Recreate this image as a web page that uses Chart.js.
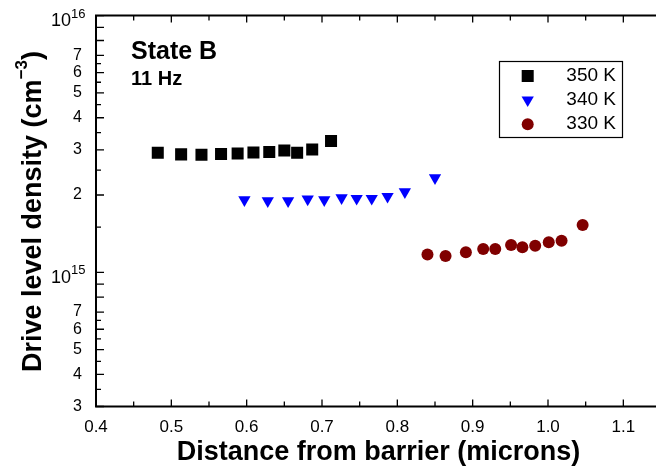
<!DOCTYPE html>
<html>
<head>
<meta charset="utf-8">
<title>Drive level density - State B, 11 Hz</title>
<script src="https://cdn.jsdelivr.net/npm/chart.js@4/dist/chart.umd.min.js"></script>
<style>
  html, body { margin: 0; padding: 0; background: #fff; overflow: hidden; }
  #clip { width: 656px; height: 467px; overflow: hidden; }
  #wrap { width: 676px; height: 467px; }
</style>
</head>
<body>
<div id="clip"><div id="wrap"><canvas id="dldChart"></canvas></div></div>
<script>
// distance from barrier (microns) / drive level density (cm^-3)
const x350 = [0.482, 0.513, 0.540, 0.566, 0.588, 0.609, 0.630, 0.650, 0.667, 0.687, 0.712];
const n350 = [2.92e15, 2.88e15, 2.87e15, 2.89e15, 2.90e15, 2.93e15, 2.94e15, 2.98e15, 2.92e15, 3.01e15, 3.25e15];

const x340 = [0.597, 0.628, 0.655, 0.681, 0.703, 0.726, 0.746, 0.766, 0.787, 0.810, 0.850];
const n340 = [1.915e15, 1.898e15, 1.898e15, 1.927e15, 1.915e15, 1.950e15, 1.939e15, 1.939e15, 1.974e15, 2.057e15, 2.332e15];

const x330 = [0.840, 0.864, 0.891, 0.914, 0.930, 0.951, 0.966, 0.983, 1.001, 1.018, 1.046];
const n330 = [1.172e15, 1.158e15, 1.196e15, 1.233e15, 1.233e15, 1.278e15, 1.251e15, 1.270e15, 1.308e15, 1.328e15, 1.529e15];

const seriesNames = ['350 K', '340 K', '330 K'];

// axis ticks
const xMajorValues = [0.4, 0.5, 0.6, 0.7, 0.8, 0.9, 1.0, 1.1];
const xMinorValues = [0.45, 0.55, 0.65, 0.75, 0.85, 0.95, 1.05, 1.15];

const yMajorValues = [3e14, 4e14, 5e14, 6e14, 7e14, 8e14, 9e14, 1e15, 2e15, 3e15, 4e15, 5e15, 6e15, 7e15, 8e15, 9e15, 1e16];
const yMinorValues = [3.5e14, 4.5e14, 5.5e14, 6.5e14, 1.5e15, 2.5e15, 3.5e15, 4.5e15, 5.5e15, 6.5e15];
const yLabelValues = [3e14, 4e14, 5e14, 6e14, 7e14, 2e15, 3e15, 4e15, 5e15, 6e15, 7e15];
const yLabelTexts = ['3', '4', '5', '6', '7', '2', '3', '4', '5', '6', '7'];
const decadeValues = [1e15, 1e16];
const decadeExps = ['15', '16'];

const FONT = '"Liberation Sans", Arial, Helvetica, sans-serif';

function sameValue(a, b) { return Math.abs(a / b - 1) < 1e-6; }

// frame, inward ticks, decade labels, y title, notes and legend
const frameAndText = {
  id: 'frameAndText',
  afterDraw(chart) {
    const { ctx, chartArea: a, scales: { x, y } } = chart;
    ctx.save();
    ctx.strokeStyle = '#000';
    ctx.fillStyle = '#000';

    ctx.lineWidth = 1.3;
    ctx.beginPath();
    const xTick = (v, len) => {
      const px = x.getPixelForValue(v);
      ctx.moveTo(px, a.bottom); ctx.lineTo(px, a.bottom - len);
      ctx.moveTo(px, a.top); ctx.lineTo(px, a.top + len);
    };
    xMajorValues.forEach(v => xTick(v, 7));
    xMinorValues.forEach(v => xTick(v, 5));
    const yTick = (v, len) => {
      const py = y.getPixelForValue(v);
      ctx.moveTo(a.left, py); ctx.lineTo(a.left + len, py);
    };
    yMajorValues.forEach(v => yTick(v, 8));
    yMinorValues.forEach(v => yTick(v, 5));
    ctx.stroke();

    ctx.lineWidth = 2;
    ctx.lineJoin = 'miter';
    ctx.beginPath();
    ctx.moveTo(a.right, a.top);
    ctx.lineTo(a.left, a.top);
    ctx.lineTo(a.left, a.bottom);
    ctx.lineTo(a.right, a.bottom);
    ctx.stroke();

    // 10^15, 10^16
    ctx.textBaseline = 'alphabetic';
    decadeValues.forEach((v, i) => {
      const py = y.getPixelForValue(v);
      ctx.font = '18px ' + FONT;
      ctx.textAlign = 'right';
      ctx.fillText('10', a.left - 25, py + 10.5);
      ctx.font = '13px ' + FONT;
      ctx.textAlign = 'left';
      ctx.fillText(decadeExps[i], a.left - 25, py + 2);
    });

    // y axis title with superscript
    const main = 'Drive level density (cm';
    const sup = '\u22123';
    const close = ')';
    ctx.font = 'bold 27px ' + FONT;
    const wMain = ctx.measureText(main).width;
    const wClose = ctx.measureText(close).width;
    ctx.font = 'bold 17px ' + FONT;
    const wSup = ctx.measureText(sup).width;
    const total = wMain + wSup + wClose;
    ctx.save();
    ctx.translate(41, 211.5 + total / 2);
    ctx.rotate(-Math.PI / 2);
    ctx.textAlign = 'left';
    ctx.font = 'bold 27px ' + FONT;
    ctx.fillText(main, 0, 0);
    ctx.fillText(close, wMain + wSup, 0);
    ctx.font = 'bold 17px ' + FONT;
    ctx.fillText(sup, wMain, -14);
    ctx.restore();

    // notes
    ctx.textAlign = 'left';
    ctx.font = 'bold 25px ' + FONT;
    ctx.fillText('State B', 131, 58.5);
    ctx.font = 'bold 20px ' + FONT;
    ctx.fillText('11 Hz', 131, 85);

    // legend
    ctx.lineWidth = 1.2;
    ctx.strokeRect(499.5, 61.5, 123, 76);
    const rows = [76, 100, 124.3];
    chart.data.datasets.forEach((ds, i) => {
      ctx.fillStyle = ds.backgroundColor;
      Chart.helpers.drawPoint(ctx, {
        pointStyle: ds.pointStyle,
        radius: ds.pointRadius,
        rotation: ds.rotation || 0,
        borderWidth: 0
      }, 527.7, rows[i]);
      ctx.fillStyle = '#000';
      ctx.font = '19px ' + FONT;
      ctx.textAlign = 'right';
      ctx.textBaseline = 'middle';
      ctx.fillText(ds.label, 616, rows[i] - 0.5);
    });
    ctx.restore();
  }
};

function points(xs, ys) {
  return xs.map((v, i) => ({ x: v, y: ys[i] }));
}

const ctx = document.getElementById('dldChart').getContext('2d');
new Chart(ctx, {
  type: 'scatter',
  data: {
    datasets: [
      { label: seriesNames[0], data: points(x350, n350), pointStyle: 'rect', pointRadius: 8.5,
        backgroundColor: '#000000', borderWidth: 0 },
      { label: seriesNames[1], data: points(x340, n340), pointStyle: 'triangle', pointRadius: 7.1, rotation: 180,
        backgroundColor: '#0000ff', borderWidth: 0 },
      { label: seriesNames[2], data: points(x330, n330), pointStyle: 'circle', pointRadius: 6,
        backgroundColor: '#800000', borderWidth: 0 }
    ]
  },
  options: {
    responsive: true,
    maintainAspectRatio: false,
    animation: false,
    events: [],
    layout: { padding: { top: 15.5, right: 15, left: 0, bottom: 0 } },
    scales: {
      x: {
        type: 'linear',
        min: 0.4,
        max: 1.15,
        afterBuildTicks: axis => { axis.ticks = xMajorValues.map(v => ({ value: v })); },
        afterFit: axis => { axis.height = 60.5; },
        grid: { display: false },
        border: { display: false },
        ticks: {
          color: '#000',
          font: { family: FONT, size: 17 },
          padding: 3,
          autoSkip: false,
          maxRotation: 0,
          callback: v => v.toFixed(1)
        },
        title: {
          display: true,
          text: 'Distance from barrier (microns)',
          color: '#000',
          font: { family: FONT, size: 27, weight: 'bold', lineHeight: 1.1 },
          padding: { top: 0, bottom: 0 }
        }
      },
      y: {
        type: 'logarithmic',
        min: 3e14,
        max: 1e16,
        afterBuildTicks: axis => {
          axis.ticks = yMajorValues.concat(yMinorValues).sort((p, q) => p - q).map(v => ({ value: v }));
        },
        afterFit: axis => { axis.width = 96; },
        grid: { display: false },
        border: { display: false },
        ticks: {
          color: '#000',
          font: { family: FONT, size: 16 },
          padding: 6,
          autoSkip: false,
          callback: value => {
            const i = yLabelValues.findIndex(v => sameValue(v, value));
            return i >= 0 ? yLabelTexts[i] : '';
          }
        }
      }
    },
    plugins: {
      legend: { display: false },
      tooltip: { enabled: false }
    }
  },
  plugins: [frameAndText]
});
</script>
</body>
</html>
